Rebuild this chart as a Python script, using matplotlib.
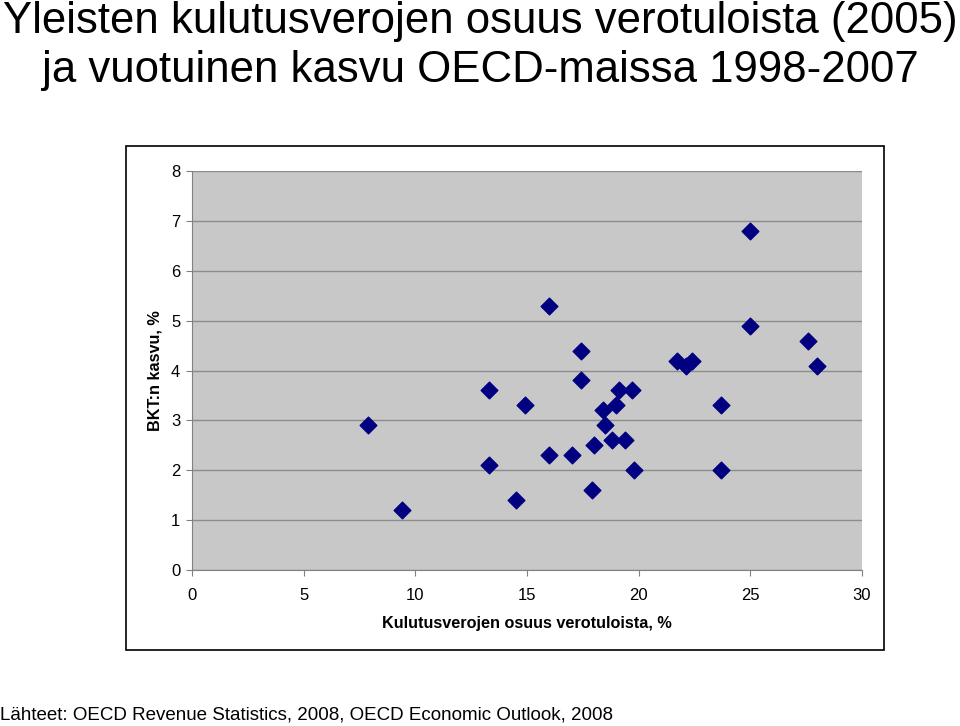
import matplotlib
matplotlib.use("Agg")
import matplotlib.pyplot as plt
from matplotlib.patches import Rectangle

plt.rcParams['font.family'] = ['Liberation Sans', 'DejaVu Sans']

# Consumption tax share of tax revenue (2005), % and annual GDP growth 1998-2007, %
kulutusverot = [7.9, 9.4, 13.3, 13.3, 14.5, 14.9, 16.0, 16.0, 17.0, 17.4,
                17.4, 17.9, 18.0, 18.4, 18.5, 18.8, 19.0, 19.1, 19.4, 19.7,
                19.8, 21.7, 22.1, 22.4, 23.7, 23.7, 25.0, 25.0, 27.6, 28.0]
bkt_kasvu = [2.9, 1.2, 3.6, 2.1, 1.4, 3.3, 5.3, 2.3, 2.3, 4.4,
             3.8, 1.6, 2.5, 3.2, 2.9, 2.6, 3.3, 3.6, 2.6, 3.6,
             2.0, 4.2, 4.1, 4.2, 3.3, 2.0, 6.8, 4.9, 4.6, 4.1]
x_ticks = [0, 5, 10, 15, 20, 25, 30]
y_ticks = [0, 1, 2, 3, 4, 5, 6, 7, 8]

W, H = 960, 726
fig = plt.figure(figsize=(W / 100, H / 100), dpi=100)

# outer chart frame
frame = Rectangle((126 / W, 1 - 650 / H), (884 - 126) / W, (650 - 146) / H,
                  transform=fig.transFigure, facecolor='white',
                  edgecolor='black', linewidth=1.2, zorder=-5)
fig.add_artist(frame)

ax = fig.add_axes([192 / W, 1 - 570 / H, (862 - 192) / W, (570 - 171) / H])
ax.set_facecolor('#C8C8C8')
ax.scatter(kulutusverot, bkt_kasvu, marker='D', s=72, color='#000080',
           edgecolors='#000080', zorder=3, clip_on=False)

ax.set_xlim(0, 30)
ax.set_ylim(0, 8)
ax.set_xticks(x_ticks)
ax.set_yticks(y_ticks)
ax.grid(axis='y', color='#8c8c8c', linewidth=1)
ax.set_axisbelow(True)
for s in ['top', 'right']:
    ax.spines[s].set_visible(False)
for s in ['left', 'bottom']:
    ax.spines[s].set_color('#808080')
ax.tick_params(axis='both', colors='#808080', labelcolor='black', labelsize=12,
               length=4)
ax.tick_params(axis='x', pad=9)
ax.tick_params(axis='y', pad=4.5)

ax.set_xlabel('Kulutusverojen osuus verotuloista, %', fontsize=11.7, fontweight='bold',
              labelpad=9)
ax.set_ylabel('BKT:n kasvu, %', fontsize=11.7, fontweight='bold', labelpad=6)

fig.text(0.5, 1 - 33 / H, 'Yleisten kulutusverojen osuus verotuloista (2005)',
         ha='center', va='baseline', fontsize=31.5)
fig.text(0.5, 1 - 82 / H, 'ja vuotuinen kasvu OECD-maissa 1998-2007',
         ha='center', va='baseline', fontsize=31.5)
fig.text(0.0, 1 - 720 / H, 'Lähteet: OECD Revenue Statistics, 2008, OECD Economic Outlook, 2008',
         ha='left', va='baseline', fontsize=13.5)

fig.savefig('out.png', dpi=100)
